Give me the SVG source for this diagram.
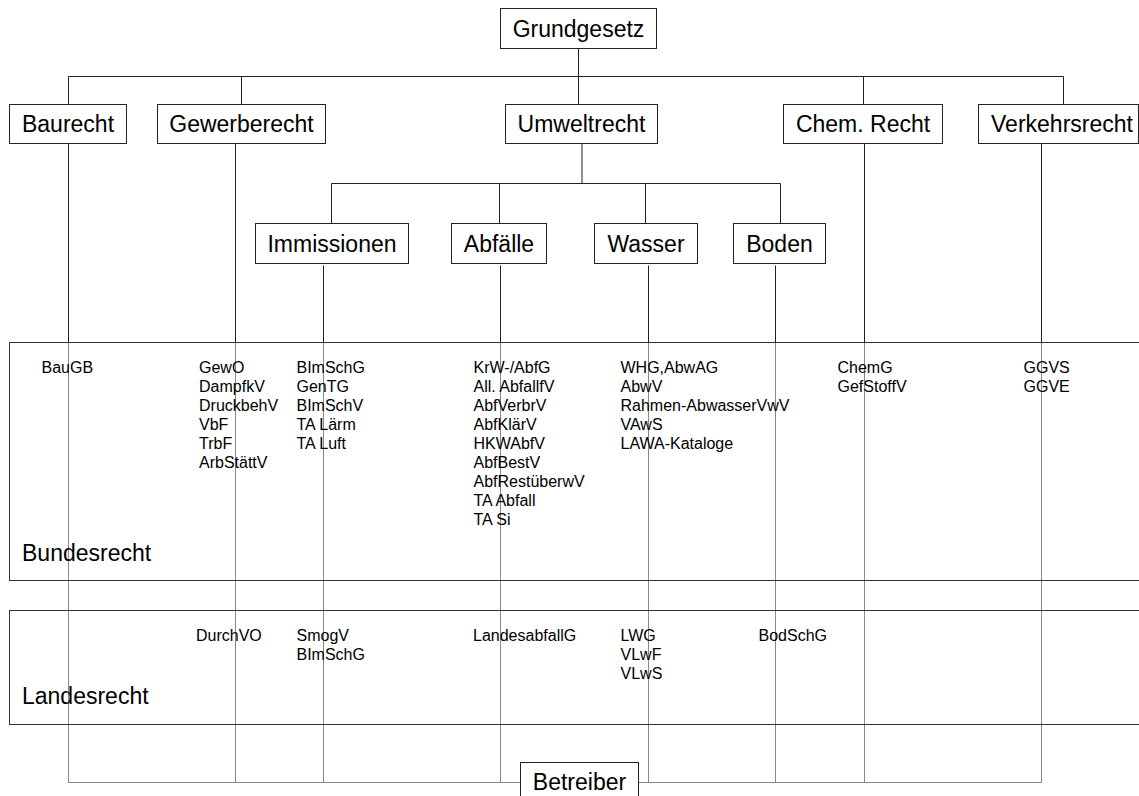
<svg xmlns="http://www.w3.org/2000/svg" width="1139" height="796" viewBox="0 0 1139 796">
  <style>
    .box { fill: #fff; stroke: #222; stroke-width: 1; }
    .band { fill: none; stroke: #333; stroke-width: 1; }
    .link { fill: none; stroke: #222; stroke-width: 1; }
    .dot { fill: none; stroke: #111; stroke-width: 1; stroke-dasharray: 1 1; }
    .lbl { font-family: "Liberation Sans", Arial, sans-serif; font-size: 23px; fill: #000; text-anchor: middle; }
    .big { font-family: "Liberation Sans", Arial, sans-serif; font-size: 23px; fill: #000; }
    .law { font-family: "Liberation Sans", Arial, sans-serif; font-size: 16px; fill: #000; }
  </style>

  <!-- legal levels (bands) -->
  <g id="bundesrecht">
    <rect class="band" x="9.5" y="342.5" width="1200" height="238"/>
    <text class="big" x="22" y="561">Bundesrecht</text>
    <text class="law" x="41.5" y="372.5">BauGB</text>
    <text class="law">
      <tspan x="199" y="372.5">GewO</tspan>
      <tspan x="199" y="391.5">DampfkV</tspan>
      <tspan x="199" y="410.5">DruckbehV</tspan>
      <tspan x="199" y="429.5">VbF</tspan>
      <tspan x="199" y="448.5">TrbF</tspan>
      <tspan x="199" y="467.5">ArbStättV</tspan>
    </text>
    <text class="law">
      <tspan x="296.5" y="372.5">BImSchG</tspan>
      <tspan x="296.5" y="391.5">GenTG</tspan>
      <tspan x="296.5" y="410.5">BImSchV</tspan>
      <tspan x="296.5" y="429.5">TA Lärm</tspan>
      <tspan x="296.5" y="448.5">TA Luft</tspan>
    </text>
    <text class="law">
      <tspan x="473.5" y="372.5">KrW-/AbfG</tspan>
      <tspan x="473.5" y="391.5">All. AbfallfV</tspan>
      <tspan x="473.5" y="410.5">AbfVerbrV</tspan>
      <tspan x="473.5" y="429.5">AbfKlärV</tspan>
      <tspan x="473.5" y="448.5">HKWAbfV</tspan>
      <tspan x="473.5" y="467.5">AbfBestV</tspan>
      <tspan x="473.5" y="486.5">AbfRestüberwV</tspan>
      <tspan x="473.5" y="505.5">TA Abfall</tspan>
      <tspan x="473.5" y="524.5">TA Si</tspan>
    </text>
    <text class="law">
      <tspan x="620.5" y="372.5">WHG,AbwAG</tspan>
      <tspan x="620.5" y="391.5">AbwV</tspan>
      <tspan x="620.5" y="410.5">Rahmen-AbwasserVwV</tspan>
      <tspan x="620.5" y="429.5">VAwS</tspan>
      <tspan x="620.5" y="448.5">LAWA-Kataloge</tspan>
    </text>
    <text class="law">
      <tspan x="837.5" y="372.5">ChemG</tspan>
      <tspan x="837.5" y="391.5">GefStoffV</tspan>
    </text>
    <text class="law">
      <tspan x="1023.5" y="372.5">GGVS</tspan>
      <tspan x="1023.5" y="391.5">GGVE</tspan>
    </text>
  </g>

  <g id="landesrecht">
    <rect class="band" x="9.5" y="610.5" width="1200" height="114"/>
    <text class="big" x="22" y="703.5">Landesrecht</text>
    <text class="law" x="196" y="640.5">DurchVO</text>
    <text class="law">
      <tspan x="296.5" y="640.5">SmogV</tspan>
      <tspan x="296.5" y="659.5">BImSchG</tspan>
    </text>
    <text class="law" x="473" y="640.5">LandesabfallG</text>
    <text class="law">
      <tspan x="620.5" y="640.5">LWG</tspan>
      <tspan x="620.5" y="659.5">VLwF</tspan>
      <tspan x="620.5" y="678.5">VLwS</tspan>
    </text>
    <text class="law" x="758.5" y="640.5">BodSchG</text>
  </g>

  <!-- connectors -->
  <g id="connectors">
    <!-- Grundgesetz to the five branches -->
    <path class="link" d="M578.5 48.5 V104.5 M68.5 76.5 H1063.5 M68.5 76.5 V104.5 M241.5 76.5 V104.5 M863.5 76.5 V104.5 M1063.5 76.5 V104.5"/>
    <!-- Umweltrecht to its four areas -->
    <path class="link" d="M582 143.5 V183.5" stroke-width="2"/>
    <path class="link" d="M331.5 183.5 H780.5 M331.5 183.5 V223.5 M499.5 183.5 V223.5 M645.5 183.5 V223.5 M780.5 183.5 V223.5"/>
    <!-- solid drops down to Bundesrecht -->
    <path class="link" d="M68.5 143.5 V342.5 M235.5 143.5 V342.5 M864.5 143.5 V342.5 M1041.5 143.5 V342.5 M323.5 265.5 V342.5 M500.5 265.5 V342.5 M648.5 265.5 V342.5 M775.5 265.5 V342.5"/>
    <!-- dotted run through both levels to Betreiber -->
    <path class="dot" d="M68.5 342.5 V782.5 M235.5 342.5 V782.5 M323.5 342.5 V782.5 M500.5 342.5 V782.5 M648.5 342.5 V782.5 M775.5 342.5 V782.5 M864.5 342.5 V782.5 M1041.5 342.5 V782.5 M68.5 782.5 H1041.5"/>
  </g>

  <!-- nodes -->
  <g id="grundgesetz">
    <rect class="box" x="500.5" y="8.5" width="156" height="40"/>
    <text class="lbl" x="578.5" y="37">Grundgesetz</text>
  </g>
  <g id="baurecht">
    <rect class="box" x="9.5" y="104.5" width="117" height="39"/>
    <text class="lbl" x="68" y="131.5">Baurecht</text>
  </g>
  <g id="gewerberecht">
    <rect class="box" x="157.5" y="104.5" width="168" height="39"/>
    <text class="lbl" x="241.5" y="131.5">Gewerberecht</text>
  </g>
  <g id="umweltrecht">
    <rect class="box" x="505.5" y="104.5" width="152" height="39"/>
    <text class="lbl" x="581.5" y="131.5">Umweltrecht</text>
  </g>
  <g id="chemrecht">
    <rect class="box" x="783.5" y="104.5" width="159" height="39"/>
    <text class="lbl" x="863" y="131.5">Chem. Recht</text>
  </g>
  <g id="verkehrsrecht">
    <rect class="box" x="978.5" y="104.5" width="160" height="39"/>
    <text class="lbl" x="1062" y="131.5">Verkehrsrecht</text>
  </g>
  <g id="immissionen">
    <rect class="box" x="255.5" y="223.5" width="153" height="40"/>
    <text class="lbl" x="332" y="251.5">Immissionen</text>
  </g>
  <g id="abfaelle">
    <rect class="box" x="451.5" y="223.5" width="95" height="40"/>
    <text class="lbl" x="499" y="251.5">Abfälle</text>
  </g>
  <g id="wasser">
    <rect class="box" x="594.5" y="223.5" width="103" height="40"/>
    <text class="lbl" x="646" y="251.5">Wasser</text>
  </g>
  <g id="boden">
    <rect class="box" x="733.5" y="223.5" width="92" height="40"/>
    <text class="lbl" x="779.5" y="251.5">Boden</text>
  </g>
  <g id="betreiber">
    <rect class="box" x="520.5" y="762.5" width="118" height="50"/>
    <text class="lbl" x="579.5" y="790">Betreiber</text>
  </g>
</svg>
